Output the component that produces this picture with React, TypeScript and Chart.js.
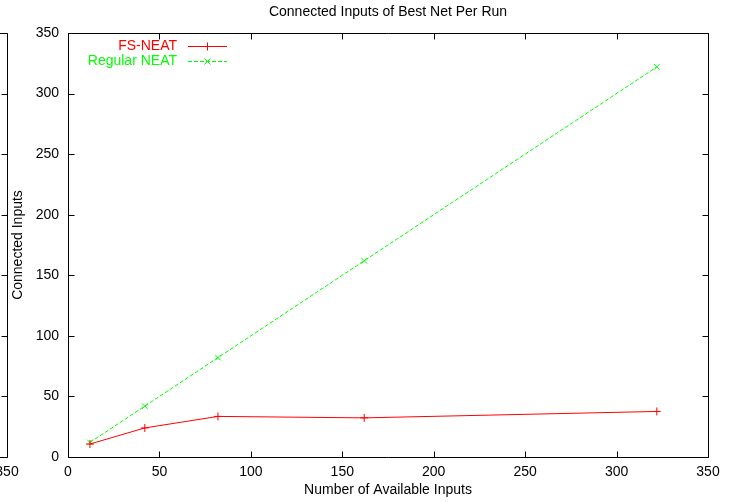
import React, { useEffect, useRef } from 'react';
import { Chart, registerables } from 'chart.js';

Chart.register(...registerables);

const availableInputs = [12, 42, 82, 162, 322];
const fsNeatConnected = [10.7, 24, 33.5, 32.3, 37.6];
const regularNeatConnected = [12, 42, 82, 162, 322];
const xTickValues = [0, 50, 100, 150, 200, 250, 300, 350];
const yTickValues = [0, 50, 100, 150, 200, 250, 300, 350];
const seriesNames = ['FS-NEAT', 'Regular NEAT'];
const chartTitle = 'Connected Inputs of Best Net Per Run';
const xTitle = 'Number of Available Inputs';
const yTitle = 'Connected Inputs';
const fragmentLabel = '350';

const FONT = '"Liberation Sans", Arial, Helvetica, sans-serif';
const RED = '#ff0000';
const GREEN = '#00ff00';

const gnuplotFrame = {
  id: 'gnuplotFrame',
  afterDraw(chart: any) {
    const { ctx, chartArea } = chart;
    const xs = chart.scales.x;
    const ys = chart.scales.y;
    const L = Math.round(chartArea.left) + 0.5;
    const R = Math.round(chartArea.right) + 0.5;
    const T = Math.round(chartArea.top) + 0.5;
    const B = Math.round(chartArea.bottom) + 0.5;
    const tl = 6;
    ctx.save();
    ctx.strokeStyle = '#000';
    ctx.lineWidth = 1;
    ctx.setLineDash([]);
    ctx.beginPath();
    ctx.rect(L, T, R - L, B - T);
    for (const v of xTickValues) {
      const px = Math.round(xs.getPixelForValue(v)) + 0.5;
      ctx.moveTo(px, B);
      ctx.lineTo(px, B - tl);
      ctx.moveTo(px, T);
      ctx.lineTo(px, T + tl);
    }
    for (const v of yTickValues) {
      const py = Math.round(ys.getPixelForValue(v)) + 0.5;
      ctx.moveTo(L, py);
      ctx.lineTo(L + tl, py);
      ctx.moveTo(R, py);
      ctx.lineTo(R - tl, py);
    }
    // fragment of the neighbouring chart on the left edge
    ctx.moveTo(7.5, T);
    ctx.lineTo(7.5, B);
    ctx.moveTo(0, T);
    ctx.lineTo(7.5, T);
    ctx.moveTo(0, B);
    ctx.lineTo(7.5, B);
    for (const v of yTickValues) {
      const py = Math.round(ys.getPixelForValue(v)) + 0.5;
      ctx.moveTo(7.5, py);
      ctx.lineTo(1.5, py);
    }
    ctx.stroke();

    ctx.fillStyle = '#000';
    ctx.font = `14px ${FONT}`;
    ctx.textAlign = 'center';
    ctx.textBaseline = 'top';
    ctx.fillText(fragmentLabel, 7, B + 8);

    // title
    ctx.textBaseline = 'middle';
    ctx.fillText(chartTitle, (chartArea.left + chartArea.right) / 2, 12);

    // legend
    const legendRight = chartArea.left + 109;
    const sampleStart = chartArea.left + 120;
    const sampleEnd = chartArea.left + 159;
    const rows = [
      { name: seriesNames[0], color: RED, dash: [] as number[], marker: '+', y: T + 12.5 },
      { name: seriesNames[1], color: GREEN, dash: [4, 2], marker: 'x', y: T + 27.5 },
    ];
    for (const r of rows) {
      ctx.fillStyle = r.color;
      ctx.textAlign = 'right';
      ctx.fillText(r.name, legendRight, r.y);
      ctx.strokeStyle = r.color;
      ctx.setLineDash(r.dash);
      ctx.beginPath();
      ctx.moveTo(sampleStart, Math.round(r.y) + 0.5);
      ctx.lineTo(sampleEnd, Math.round(r.y) + 0.5);
      ctx.stroke();
      ctx.setLineDash([]);
      const cx = (sampleStart + sampleEnd) / 2;
      const cy = Math.round(r.y) + 0.5;
      ctx.beginPath();
      if (r.marker === '+') {
        ctx.moveTo(cx - 4, cy);
        ctx.lineTo(cx + 4, cy);
        ctx.moveTo(cx, cy - 4);
        ctx.lineTo(cx, cy + 4);
      } else {
        ctx.moveTo(cx - 3, cy - 3);
        ctx.lineTo(cx + 3, cy + 3);
        ctx.moveTo(cx - 3, cy + 3);
        ctx.lineTo(cx + 3, cy - 3);
      }
      ctx.stroke();
    }
    ctx.restore();
  },
};

export default function App() {
  const ref = useRef<HTMLCanvasElement | null>(null);
  useEffect(() => {
    document.body.style.margin = '0';
    const canvas = ref.current;
    if (!canvas) return;
    const chart = new Chart(canvas, {
      type: 'line',
      data: {
        datasets: [
          {
            label: seriesNames[0],
            data: availableInputs.map((x, i) => ({ x, y: fsNeatConnected[i] })),
            borderColor: RED,
            backgroundColor: RED,
            borderWidth: 1,
            pointStyle: 'cross',
            pointRadius: 4,
            pointBorderWidth: 1,
            pointBorderColor: RED,
            fill: false,
            tension: 0,
          },
          {
            label: seriesNames[1],
            data: availableInputs.map((x, i) => ({ x, y: regularNeatConnected[i] })),
            borderColor: GREEN,
            backgroundColor: GREEN,
            borderWidth: 1,
            borderDash: [4, 2],
            pointStyle: 'crossRot',
            pointRadius: 4,
            pointBorderWidth: 1,
            pointBorderColor: GREEN,
            fill: false,
            tension: 0,
          },
        ],
      },
      options: {
        responsive: false,
        animation: false,
        layout: { padding: { top: 33, right: 29, left: 0, bottom: 0 } },
        plugins: {
          legend: { display: false },
          title: { display: false },
          tooltip: { enabled: false },
        },
        scales: {
          x: {
            type: 'linear',
            min: 0,
            max: 350,
            afterFit: (s: any) => { s.height = 45; },
            afterBuildTicks: (s: any) => { s.ticks = xTickValues.map((v) => ({ value: v })); },
            grid: { display: false, drawTicks: false },
            border: { display: false },
            ticks: {
              color: '#000',
              font: { family: FONT, size: 14 },
              padding: 7,
              maxRotation: 0,
              autoSkip: false,
            },
            title: {
              display: true,
              text: xTitle,
              color: '#000',
              font: { family: FONT, size: 14 },
              padding: { top: 0, bottom: 3 },
            },
          },
          y: {
            type: 'linear',
            min: 0,
            max: 350,
            afterFit: (s: any) => { s.width = 68; },
            afterBuildTicks: (s: any) => { s.ticks = yTickValues.map((v) => ({ value: v })); },
            grid: { display: false, drawTicks: false },
            border: { display: false },
            ticks: {
              color: '#000',
              font: { family: FONT, size: 14 },
              padding: 9,
              autoSkip: false,
            },
            title: {
              display: true,
              text: yTitle,
              color: '#000',
              font: { family: FONT, size: 14 },
              padding: { top: 10, bottom: 0 },
            },
          },
        },
      },
      plugins: [gnuplotFrame],
    } as any);
    return () => chart.destroy();
  }, []);
  return (
    <div style={{ width: 737, height: 502, background: '#fff' }}>
      <canvas ref={ref} width={737} height={502} style={{ width: 737, height: 502, display: 'block' }} />
    </div>
  );
}
